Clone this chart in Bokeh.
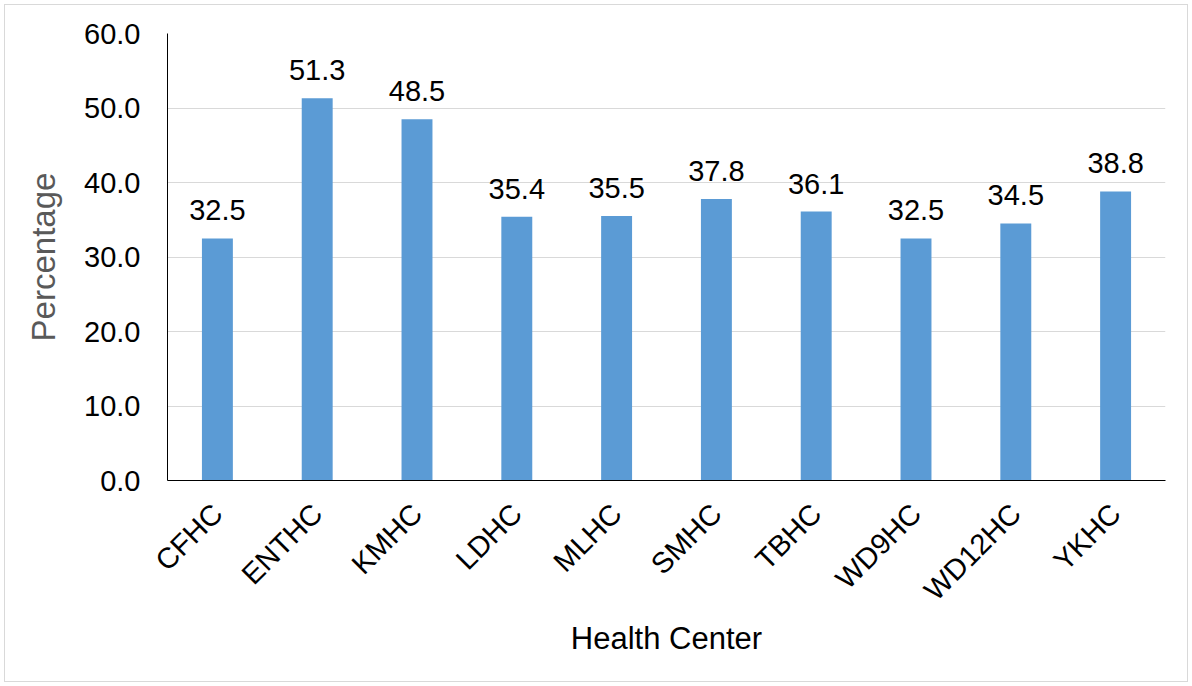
import math
from bokeh.plotting import figure
from bokeh.models import ColumnDataSource, LabelSet, FactorRange, Range1d, FixedTicker, NumeralTickFormatter
from bokeh.core.properties import value
from bokeh.embed import file_html
from bokeh.resources import INLINE

centers = ["CFHC", "ENTHC", "KMHC", "LDHC", "MLHC", "SMHC", "TBHC", "WD9HC", "WD12HC", "YKHC"]
percentages = [32.5, 51.3, 48.5, 35.4, 35.5, 37.8, 36.1, 32.5, 34.5, 38.8]
y_ticks = [0, 10, 20, 30, 40, 50, 60]

source = ColumnDataSource(dict(
    center=centers,
    pct=percentages,
    label=[f"{v:.1f}" for v in percentages],
))

FONT = "Liberation Sans"

p = figure(
    x_range=FactorRange(*centers, range_padding=0),
    y_range=Range1d(0, 60),
    width=1192, height=686,
    min_border_left=167, min_border_right=27, min_border_top=33, min_border_bottom=206,
    output_backend="svg", toolbar_location=None,
    background_fill_color="white", border_fill_color=None,
)
p.styles = {"outline": "1px solid #d9d9d9", "outline-offset": "-5px", "background-color": "white"}
p.outline_line_color = None

p.vbar(x="center", top="pct", width=0.31, source=source,
       fill_color="#5B9BD5", line_color=None)

labels = LabelSet(x="center", y="pct", text="label", source=source,
                  text_align="center", text_baseline="alphabetic", y_offset=18,
                  text_font=value(FONT), text_font_size="29px", text_color="black")
p.add_layout(labels)

# grid
p.xgrid.grid_line_color = None
p.ygrid.grid_line_color = "#d9d9d9"
p.ygrid.grid_line_width = 1

# y axis
p.yaxis.ticker = FixedTicker(ticks=y_ticks)
p.yaxis.formatter = NumeralTickFormatter(format="0.0")
p.yaxis.axis_line_color = "black"
p.yaxis.major_tick_line_color = None
p.yaxis.minor_tick_line_color = None
p.yaxis.major_label_standoff = 21
p.yaxis.major_label_text_font = FONT
p.yaxis.major_label_text_font_size = "29px"
p.yaxis.major_label_text_color = "black"
p.yaxis.axis_label = "Percentage"
p.yaxis.axis_label_text_font = FONT
p.yaxis.axis_label_text_font_size = "33px"
p.yaxis.axis_label_text_font_style = "normal"
p.yaxis.axis_label_text_color = "#595959"
p.yaxis.axis_label_standoff = 19

# x axis
p.xaxis.axis_line_color = "black"
p.xaxis.major_tick_line_color = None
p.xaxis.minor_tick_line_color = None
p.xaxis.major_label_orientation = math.pi / 4
p.xaxis.major_label_standoff = 22
p.xaxis.major_label_text_font = FONT
p.xaxis.major_label_text_font_size = "29px"
p.xaxis.major_label_text_color = "black"
p.xaxis.axis_label = "Health Center"
p.xaxis.axis_label_text_font = FONT
p.xaxis.axis_label_text_font_size = "31px"
p.xaxis.axis_label_text_font_style = "normal"
p.xaxis.axis_label_text_color = "black"
p.xaxis.axis_label_standoff = 0

open("out.html", "w").write(file_html(p, INLINE))
